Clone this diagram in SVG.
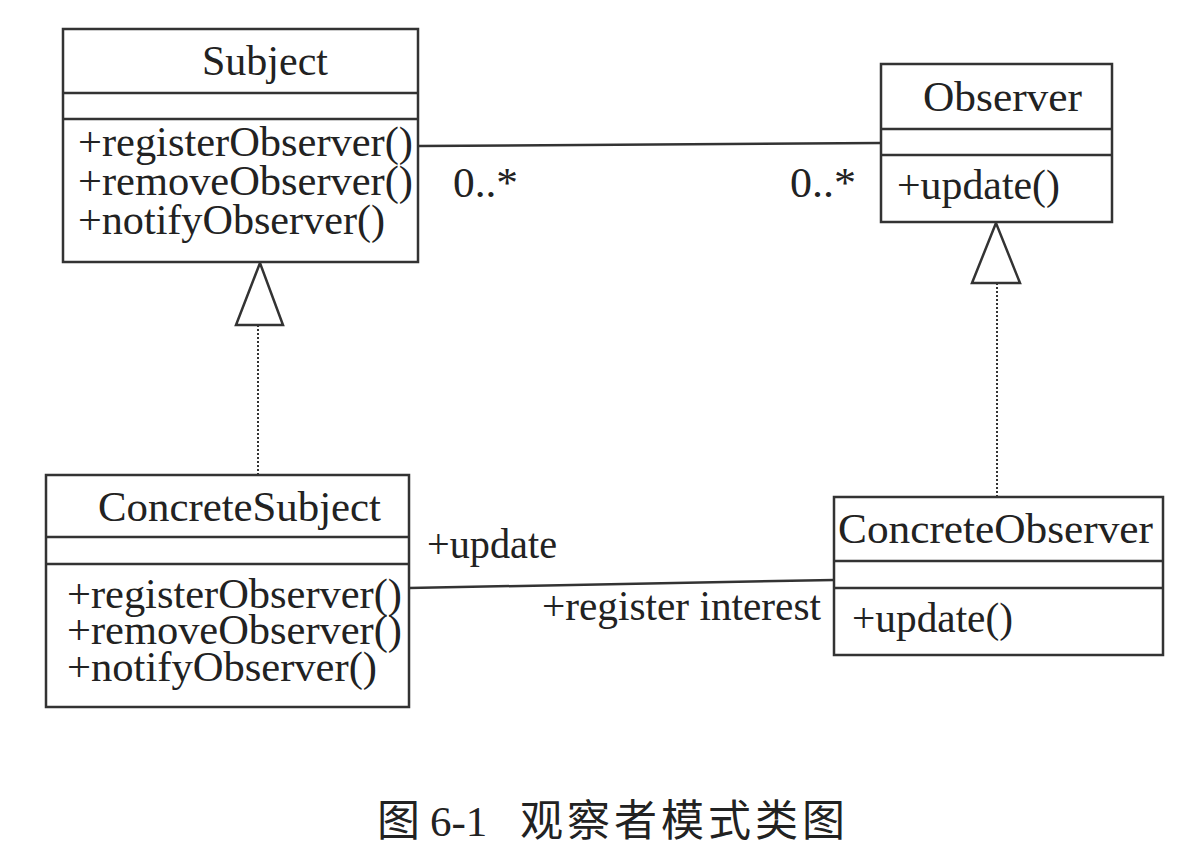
<svg xmlns="http://www.w3.org/2000/svg" width="1184" height="862" viewBox="0 0 1184 862">
<style>
.box{fill:#fff;stroke:#333;stroke-width:2.5}
.sep{stroke:#333;stroke-width:2.5}
.t{font-family:"Liberation Serif","Times New Roman",serif;font-size:42px;fill:#222}
.assoc{stroke:#333;stroke-width:2.5;fill:none}
.real{stroke:#333;stroke-width:2;stroke-dasharray:2 2;fill:none}
.tri{fill:#fff;stroke:#333;stroke-width:2.5;stroke-linejoin:miter}
.cap{font-family:"Liberation Serif","Noto Sans CJK SC",serif;font-size:43px;fill:#222}
</style>
<rect width="1184" height="862" fill="#fff"/>
<g id="connectors">
<line class="assoc" x1="418" y1="146" x2="881" y2="143"/>
<line class="assoc" x1="409" y1="588" x2="834" y2="580"/>
<line class="real" x1="258" y1="325" x2="258" y2="475"/>
<polygon class="tri" points="260,263 236,325 283,325"/>
<line class="real" x1="997" y1="283" x2="997" y2="497"/>
<polygon class="tri" points="996,223 972,283 1020,283"/>
<text class="t" x="453" y="197" textLength="65" lengthAdjust="spacingAndGlyphs">0..*</text>
<text class="t" x="790" y="197" textLength="66" lengthAdjust="spacingAndGlyphs">0..*</text>
<text class="t" x="427" y="558" textLength="130" lengthAdjust="spacingAndGlyphs">+update</text>
<text class="t" x="542" y="620" textLength="279" lengthAdjust="spacingAndGlyphs">+register interest</text>
</g>
<g id="Subject">
<rect class="box" x="63" y="29" width="355" height="233"/>
<line class="sep" x1="63" y1="93" x2="418" y2="93"/>
<line class="sep" x1="63" y1="119" x2="418" y2="119"/>
<text class="t" x="202" y="75" textLength="126" lengthAdjust="spacingAndGlyphs">Subject</text>
<text class="t" x="78" y="156" textLength="335" lengthAdjust="spacingAndGlyphs">+registerObserver()</text>
<text class="t" x="78" y="195" textLength="335" lengthAdjust="spacingAndGlyphs">+removeObserver()</text>
<text class="t" x="78" y="234" textLength="307" lengthAdjust="spacingAndGlyphs">+notifyObserver()</text>
</g>
<g id="Observer">
<rect class="box" x="881" y="64" width="231" height="158"/>
<line class="sep" x1="881" y1="129" x2="1112" y2="129"/>
<line class="sep" x1="881" y1="155" x2="1112" y2="155"/>
<text class="t" x="923" y="111" textLength="159" lengthAdjust="spacingAndGlyphs">Observer</text>
<text class="t" x="897" y="199" textLength="163" lengthAdjust="spacingAndGlyphs">+update()</text>
</g>
<g id="ConcreteSubject">
<rect class="box" x="46" y="475" width="363" height="232"/>
<line class="sep" x1="46" y1="537" x2="409" y2="537"/>
<line class="sep" x1="46" y1="564" x2="409" y2="564"/>
<text class="t" x="98" y="521" textLength="283" lengthAdjust="spacingAndGlyphs">ConcreteSubject</text>
<text class="t" x="67" y="608" textLength="335" lengthAdjust="spacingAndGlyphs">+registerObserver()</text>
<text class="t" x="67" y="644" textLength="335" lengthAdjust="spacingAndGlyphs">+removeObserver()</text>
<text class="t" x="67" y="681" textLength="310" lengthAdjust="spacingAndGlyphs">+notifyObserver()</text>
</g>
<g id="ConcreteObserver">
<rect class="box" x="834" y="497" width="329" height="158"/>
<line class="sep" x1="834" y1="561" x2="1163" y2="561"/>
<line class="sep" x1="834" y1="588" x2="1163" y2="588"/>
<text class="t" x="838" y="543" textLength="315" lengthAdjust="spacingAndGlyphs">ConcreteObserver</text>
<text class="t" x="852" y="632" textLength="161" lengthAdjust="spacingAndGlyphs">+update()</text>
</g>
<g id="caption">
<text class="cap" x="377" y="836">图 <tspan x="430">6-1</tspan> <tspan x="520" letter-spacing="4">观察者模式类图</tspan></text>
</g>
</svg>
